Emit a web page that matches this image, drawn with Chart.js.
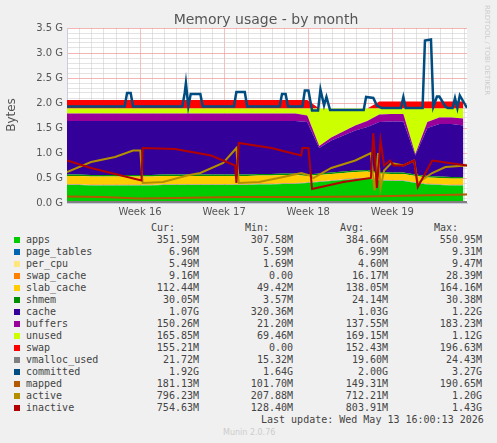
<!DOCTYPE html>
<html>
<head>
<meta charset="utf-8">
<script src="https://cdn.jsdelivr.net/npm/chart.js@4"></script>
<style>
  body { margin: 0; background: #f0f0f0; width: 497px; height: 443px; overflow: hidden; position: relative; }
  #wrap { position: absolute; left: 0; top: 0; width: 497px; height: 220px; }
  .leg { position: absolute; font: 10px "DejaVu Sans Mono", monospace; color: #444; white-space: pre; }
  .sw { position: absolute; width: 6px; height: 6px; }
  .num { position: absolute; font: 10px "DejaVu Sans Mono", monospace; color: #444; text-align: right; width: 90px; }
</style>
</head>
<body>
<div id="wrap"><canvas id="myChart" width="497" height="220"></canvas></div>
<div id="legend"></div>
<script>
"use strict";

// one sample per day, day 0 = left edge of the plot
var days = [];
for (var d = 0; d <= 33; d++) { days.push(d); }

// stacked areas, in G
var apps = [0.36,0.36,0.35,0.35,0.35,0.35,0.35,0.35,0.36,0.36,0.36,0.36,0.36,0.36,0.36,0.36,0.37,0.37,0.38,0.38,0.40,0.42,0.44,0.46,0.48,0.49,0.45,0.44,0.44,0.40,0.37,0.36,0.35,0.35];
var pageTables = [0.007,0.007,0.007,0.007,0.007,0.007,0.007,0.007,0.007,0.007,0.007,0.007,0.007,0.007,0.007,0.007,0.007,0.007,0.007,0.007,0.007,0.007,0.007,0.007,0.007,0.007,0.007,0.007,0.007,0.007,0.007,0.007,0.007,0.007];
var perCpu = [0.005,0.005,0.005,0.005,0.005,0.005,0.005,0.005,0.005,0.005,0.005,0.005,0.005,0.005,0.005,0.005,0.005,0.005,0.005,0.005,0.005,0.005,0.005,0.005,0.005,0.005,0.005,0.005,0.005,0.005,0.005,0.005,0.005,0.005];
var swapCache = [0.01,0.01,0.01,0.01,0.01,0.01,0.01,0.01,0.01,0.01,0.01,0.01,0.01,0.01,0.01,0.01,0.01,0.01,0.01,0.01,0.01,0.01,0.01,0.01,0.01,0.01,0.01,0.01,0.01,0.01,0.01,0.01,0.01,0.01];
var slabCache = [0.16,0.16,0.16,0.16,0.16,0.16,0.16,0.16,0.16,0.16,0.16,0.16,0.16,0.16,0.16,0.16,0.16,0.16,0.16,0.16,0.12,0.12,0.12,0.12,0.12,0.12,0.12,0.12,0.12,0.12,0.12,0.12,0.12,0.12];
var shmem = [0.03,0.03,0.03,0.03,0.03,0.03,0.03,0.03,0.03,0.03,0.03,0.03,0.03,0.03,0.03,0.03,0.03,0.03,0.03,0.03,0.03,0.03,0.03,0.03,0.03,0.03,0.03,0.03,0.03,0.03,0.03,0.03,0.03,0.03];
var cache = [1.07,1.07,1.08,1.08,1.08,1.08,1.08,1.08,1.07,1.07,1.07,1.07,1.07,1.07,1.07,1.07,1.06,1.06,1.05,1.05,1.05,0.51,0.64,0.72,0.80,0.86,1.00,1.02,1.02,0.38,0.96,1.05,1.06,1.03];
var buffers = [0.15,0.15,0.15,0.15,0.15,0.15,0.15,0.15,0.15,0.15,0.15,0.15,0.15,0.15,0.15,0.15,0.15,0.15,0.15,0.15,0.13,0.04,0.06,0.08,0.10,0.12,0.15,0.15,0.15,0.03,0.12,0.13,0.13,0.14];
var unused = [0.10,0.10,0.10,0.10,0.10,0.10,0.10,0.10,0.10,0.10,0.10,0.10,0.10,0.10,0.10,0.10,0.10,0.10,0.10,0.10,0.14,0.75,0.58,0.46,0.34,0.25,0.12,0.11,0.11,0.91,0.27,0.18,0.18,0.20];
var swap = [0.17,0.17,0.17,0.17,0.17,0.17,0.17,0.17,0.17,0.17,0.17,0.17,0.17,0.17,0.17,0.17,0.17,0.17,0.17,0.17,0.17,0,0,0,0,0,0.14,0.14,0.14,0.14,0.14,0.14,0.14,0.14];

// lines, each with its own days
var vmallocDays = [0, 33.3];
var vmalloc = [0.02, 0.02];
var mappedDays = [0, 3, 6, 9, 14, 20, 25, 29, 33.3];
var mapped = [0.13, 0.12, 0.09, 0.1, 0.12, 0.12, 0.13, 0.15, 0.17];
var committedDays = [0, 4.8, 5.0, 5.3, 5.5, 9.6, 9.8, 9.9, 10.1, 10.3, 10.5, 11.1, 11.3, 13.9, 14.1, 14.8, 15.0, 17.7, 17.9, 18.2, 18.4, 19.6, 19.8, 20.1, 20.4, 20.9, 21.1, 21.4, 21.6, 21.9, 22.2, 24.7, 24.9, 25.5, 25.8, 26.2, 27.8, 28.0, 28.2, 29.6, 29.8, 30.3, 30.5, 30.8, 31.0, 31.5, 31.7, 32.1, 32.3, 32.5, 32.7, 33.3];
var committed = [1.93, 1.93, 2.2, 2.2, 1.93, 1.93, 2.2, 2.4, 1.93, 2.18, 2.18, 2.18, 1.93, 1.93, 2.22, 2.22, 1.93, 1.93, 2.18, 2.18, 1.93, 1.93, 2.25, 2.25, 1.85, 1.85, 2.27, 1.95, 2.12, 1.86, 1.86, 1.86, 2.12, 2.10, 1.95, 1.9, 1.9, 2.12, 1.9, 1.9, 3.25, 3.27, 1.93, 2.13, 2.13, 1.93, 1.9, 1.9, 2.1, 1.9, 2.15, 1.9];
var activeDays = [0, 2, 4, 5.5, 6.1, 6.3, 8, 10, 11.1, 13, 14.1, 14.3, 16, 18, 19.5, 20.2, 20.5, 22, 24, 25.3, 25.6, 25.9, 26.1, 26.4, 27.0, 28.0, 28.9, 29.2, 30.4, 31.5, 33.3];
var active = [0.62, 0.82, 0.92, 1.05, 1.05, 0.40, 0.42, 0.55, 0.60, 0.80, 1.10, 0.40, 0.42, 0.52, 0.60, 0.55, 0.50, 0.70, 0.85, 1.00, 0.25, 1.00, 0.30, 0.65, 0.80, 0.75, 0.85, 0.40, 0.60, 0.72, 0.75];
var inactiveDays = [0, 2, 4, 6.2, 6.3, 9, 12, 14.0, 14.1, 14.3, 17, 19.5, 19.6, 20.1, 20.4, 23, 25.3, 25.5, 25.8, 26.1, 26.4, 26.9, 27.2, 28.0, 28.9, 29.2, 30.4, 33.3];
var inactive = [0.85, 0.70, 0.58, 0.45, 1.10, 1.08, 0.95, 0.75, 0.40, 1.20, 1.10, 0.95, 1.10, 1.10, 0.28, 0.42, 0.50, 1.40, 0.30, 1.25, 0.75, 0.85, 0.75, 0.75, 0.85, 0.32, 0.85, 0.75];

var weekLabels = ['Week 16', 'Week 17', 'Week 18', 'Week 19'];
var weekDays = [6.08, 13.08, 20.08, 27.08];

var legendNames = ['apps','page_tables','per_cpu','swap_cache','slab_cache','shmem','cache','buffers','unused','swap','vmalloc_used','committed','mapped','active','inactive'];
var legendColors = ['#00cc00','#0066b3','#ffe680','#ff8000','#ffcc00','#008f00','#330099','#990099','#ccff00','#ff0000','#808080','#004c80','#b35a00','#b38f00','#b30000'];
var curValues = ['351.59M','6.96M','5.49M','9.16M','112.44M','30.05M','1.07G','150.26M','165.85M','155.21M','21.72M','1.92G','181.13M','796.23M','754.63M'];
var minValues = ['307.58M','5.59M','1.69M','0.00','49.42M','3.57M','320.36M','21.20M','69.46M','0.00','15.32M','1.64G','101.70M','207.88M','128.40M'];
var avgValues = ['384.66M','6.99M','4.60M','16.17M','138.05M','24.14M','1.03G','137.55M','169.15M','152.43M','19.60M','2.00G','149.31M','712.21M','803.91M'];
var maxValues = ['550.95M','9.31M','9.47M','28.39M','164.16M','30.38M','1.22G','183.23M','1.12G','196.63M','24.43M','3.27G','190.65M','1.20G','1.43G'];

function pts(xs, ys) {
  return ys.map(function(v, i) { return { x: xs[i], y: v }; });
}

var areaSeries = [apps, pageTables, perCpu, swapCache, slabCache, shmem, cache, buffers, unused, swap];
var datasets = [];
areaSeries.forEach(function(s, i) {
  datasets.push({
    label: legendNames[i], data: pts(days, s), stack: 'mem', order: 10,
    backgroundColor: legendColors[i], borderWidth: 0, fill: i === 0 ? 'origin' : '-1',
    pointRadius: 0
  });
});
function addLine(name, xs, ys, width, order) {
  var i = legendNames.indexOf(name);
  datasets.push({
    label: name, data: pts(xs, ys), stack: name, order: order,
    borderColor: legendColors[i], borderWidth: width, fill: false, pointRadius: 0
  });
}
addLine('vmalloc_used', vmallocDays, vmalloc, 2, 5);
addLine('mapped', mappedDays, mapped, 2, 4);
addLine('active', activeDays, active, 2, 3);
addLine('inactive', inactiveDays, inactive, 2, 2);
addLine('committed', committedDays, committed, 2.5, 1);

var decor = {
  id: 'decor',
  beforeDraw: function(chart) {
    var c = chart.ctx, a = chart.chartArea;
    c.save();
    c.fillStyle = '#ffffff';
    c.fillRect(a.left, a.top, a.right - a.left, a.bottom - a.top);
    c.restore();
  },
  afterDraw: function(chart) {
    var c = chart.ctx;
    c.save();
    c.fillStyle = '#555';
    c.font = '14px "DejaVu Sans", sans-serif';
    c.textAlign = 'center';
    c.fillText('Memory usage - by month', 266, 24);
    c.font = '12px "DejaVu Sans", sans-serif';
    c.translate(15, 115);
    c.rotate(-Math.PI / 2);
    c.fillText('Bytes', 0, 0);
    c.restore();
    c.save();
    c.fillStyle = '#ccc';
    c.font = '7px "DejaVu Sans", sans-serif';
    c.translate(485, 5);
    c.rotate(Math.PI / 2);
    c.fillText('RRDTOOL / TOBI OETIKER', 0, 0);
    c.restore();
  }
};

var ctx = document.getElementById('myChart').getContext('2d');
var chart = new Chart(ctx, {
  type: 'line',
  data: { datasets: datasets },
  plugins: [decor],
  options: {
    responsive: false, animation: false,
    layout: { padding: { left: 0, right: 30, top: 28, bottom: 0 } },
    plugins: { legend: { display: false }, tooltip: { enabled: false } },
    elements: { line: { tension: 0 } },
    scales: {
      x: {
        type: 'linear', min: 0, max: 33.3,
        afterFit: function(s) { s.height = 17; },
        afterBuildTicks: function(s) {
          var t = [];
          for (var k = 0.08; k < 33.3; k += 1) { t.push({ value: k }); }
          s.ticks = t;
        },
        ticks: {
          autoSkip: false, maxRotation: 0, color: '#555', font: { size: 10, family: 'DejaVu Sans' }, padding: 3,
          callback: function(v) {
            for (var i = 0; i < weekDays.length; i++) {
              if (Math.abs(v - weekDays[i]) < 0.01) { return weekLabels[i]; }
            }
            return '';
          }
        },
        grid: {
          color: function(c) {
            var v = c.tick ? c.tick.value : 0;
            for (var i = 0; i < weekDays.length; i++) {
              if (Math.abs(v - weekDays[i]) < 0.01) { return 'rgba(240,150,150,0.6)'; }
            }
            return 'rgba(200,200,200,0.5)';
          },
          borderDash: [1, 2], drawTicks: false
        },
        border: { display: true, color: '#ccd' }
      },
      y: {
        stacked: true, min: 0, max: 3.5,
        afterFit: function(s) { s.width = 67; },
        afterBuildTicks: function(s) {
          var t = [];
          for (var k = 0; k <= 35; k++) { t.push({ value: k / 10 }); }
          s.ticks = t;
        },
        ticks: {
          autoSkip: false, color: '#555', font: { size: 10, family: 'DejaVu Sans' }, padding: 4,
          callback: function(v) {
            var r = Math.round(v * 10);
            return r % 5 === 0 ? (v.toFixed(1) + ' G') : '';
          }
        },
        grid: {
          color: function(c) {
            var r = Math.round(c.tick.value * 10);
            return r % 5 === 0 ? 'rgba(240,150,150,0.7)' : 'rgba(200,200,200,0.5)';
          },
          borderDash: [1, 2], drawTicks: false
        },
        border: { display: true, color: '#ccd' }
      }
    }
  }
});

// munin style legend table
var legend = document.getElementById('legend');
function put(cls, text, left, top, extra) {
  var el = document.createElement('div');
  el.className = cls;
  el.textContent = text;
  el.style.left = left + 'px';
  el.style.top = top + 'px';
  if (extra) { for (var k in extra) { el.style[k] = extra[k]; } }
  legend.appendChild(el);
  return el;
}
put('num', 'Cur:', 118, 222, { textAlign: 'center' });
put('num', 'Min:', 212, 222, { textAlign: 'center' });
put('num', 'Avg:', 307, 222, { textAlign: 'center' });
put('num', 'Max:', 401, 222, { textAlign: 'center' });
legendNames.forEach(function(n, i) {
  var y = 234 + i * 12;
  var sw = put('sw', '', 14, y + 3);
  sw.style.background = legendColors[i];
  put('leg', n, 26, y);
  put('num', curValues[i], 109, y);
  put('num', minValues[i], 203, y);
  put('num', avgValues[i], 298, y);
  put('num', maxValues[i], 392, y);
});
put('leg', 'Last update: Wed May 13 16:00:13 2026', 261, 414);
put('leg', 'Munin 2.0.76', 223, 428, { color: '#ccc', font: '8px "DejaVu Sans", sans-serif' });
</script>
</body>
</html>
